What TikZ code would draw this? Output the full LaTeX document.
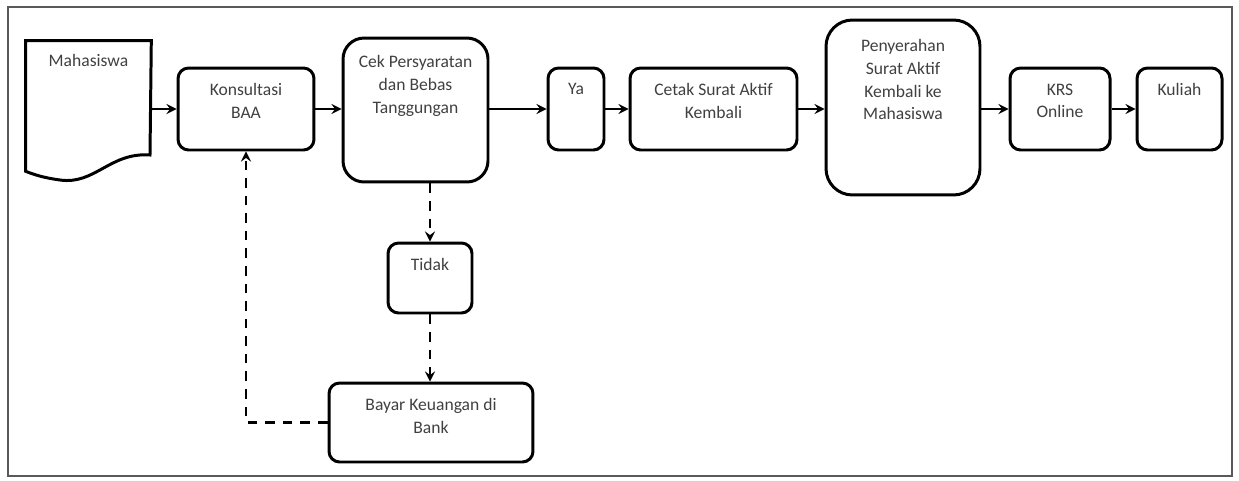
\documentclass[tikz,border=0pt]{standalone}
\usepackage{fontspec}
\setmainfont{Carlito}
\begin{document}
\begin{tikzpicture}[x=0.02cm,y=-0.02cm,->,>=stealth,shorten >=0pt,line width=1.5pt,
    box/.style={draw,rounded corners=6pt,line width=1.7pt,inner sep=0pt},
    bigbox/.style={box,rounded corners=12pt},
    txt/.style={anchor=north,yshift=-9pt,align=center,inner sep=0pt,font=\fontsize{10}{13}\selectfont,text=black!75},
    dash line/.style={dash pattern=on 5.5pt off 4.5pt}]
    \useasboundingbox (0,0) rectangle (1239,480);
    \draw[-,line width=1.2pt,black!65] (8,7) rectangle (1232,476);

    % top row
    \node[minimum width=2.46cm,minimum height=2.56cm,inner sep=0pt,label={[txt,yshift=2pt]north:Mahasiswa}] (mhs) at (88.5,106) {};
    \node[box,minimum width=2.72cm,minimum height=1.64cm,label={[txt]north:Konsultasi\\BAA}] (kns) at (246,109) {};
    \node[bigbox,minimum width=2.9cm,minimum height=2.88cm,label={[txt,yshift=-1pt]north:Cek Persyaratan\\dan Bebas\\Tanggungan}] (cek) at (415.5,110) {};
    \node[box,minimum width=1.12cm,minimum height=1.64cm,label={[txt]north:Ya}] (ya) at (576,109) {};
    \node[box,minimum width=3.34cm,minimum height=1.64cm,label={[txt]north:Cetak Surat Aktif\\Kembali}] (ctk) at (713.5,109) {};
    \node[bigbox,rounded corners=15pt,minimum width=3.08cm,minimum height=3.5cm,label={[txt,yshift=-2pt]north:Penyerahan\\Surat Aktif\\Kembali ke\\Mahasiswa}] (pny) at (903,107.5) {};
    \node[box,minimum width=2cm,minimum height=1.64cm,label={[txt]north:KRS\\Online}] (krs) at (1060,109) {};
    \node[box,minimum width=1.7cm,minimum height=1.64cm,label={[txt]north:Kuliah}] (klh) at (1179.5,109) {};

    % lower branch
    \node[box,minimum width=1.68cm,minimum height=1.4cm,label={[txt]north:Tidak}] (tdk) at (430,278) {};
    \node[box,minimum width=4.08cm,minimum height=1.58cm,label={[txt]north:Bayar Keuangan di\\Bank}] (byr) at (431,422.5) {};

    % document shape
    \draw[-,line width=1.7pt] (mhs.south west) -- (mhs.north west) -- (mhs.north east) -- (150,155)
        .. controls (110,152) and (95,185) .. (60,180)
        .. controls (45,178) and (35,175) .. (mhs.south west) -- cycle;

    \path
        (kns.west -| mhs.east) edge (kns.west)
        (kns.east) edge (kns.east -| cek.west)
        (ya.west -| cek.east) edge (ya.west)
        (ya.east) edge (ctk.west)
        (ctk.east) edge (ctk.east -| pny.west)
        (krs.west -| pny.east) edge (krs.west)
        (krs.east) edge (klh.west)
    ;

    \path[dash line]
        (cek.south -| tdk.north) edge (tdk.north)
        (tdk.south) edge (byr.north -| tdk.south)
    ;
    \draw[dash line] (byr.west) -| (kns.south);

\end{tikzpicture}
\end{document}
